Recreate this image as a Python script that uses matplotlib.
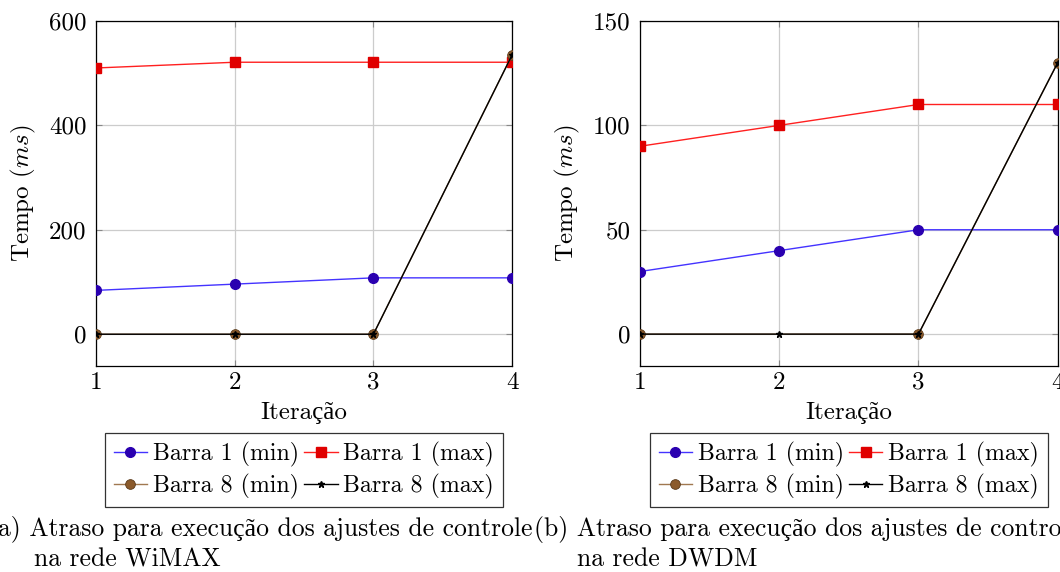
import matplotlib
matplotlib.use("Agg")
import matplotlib.pyplot as plt

# data
iteracoes = [1, 2, 3, 4]

wimax_b1_min = [84, 96, 108, 108]
wimax_b1_max = [510, 521, 521, 521]
wimax_b8_min = [0, 0, 0, 535]
wimax_b8_max = [0, 0, 0, 535]

dwdm_b1_min = [30, 40, 50, 50]
dwdm_b1_max = [90, 100, 110, 110]
dwdm_b8_min_x = [1, 3, 4]
dwdm_b8_min = [0, 0, 130]
dwdm_b8_max = [0, 0, 0, 130]

yticks_wimax = [0, 200, 400, 600]
yticks_dwdm = [0, 50, 100, 150]

captions = [
    ("(a) Atraso para execução dos ajustes de controle", "na rede WiMAX"),
    ("(b) Atraso para execução dos ajustes de controle", "na rede DWDM"),
]

plt.rcParams["font.family"] = ["cmr10", "Liberation Serif"]
plt.rcParams["mathtext.fontset"] = "cm"
plt.rcParams["axes.formatter.use_mathtext"] = True
FS = 18
FS_LEG = 17.2
FS_CAP = 18.5

BLUE_L, BLUE_M = "#4433ff", "#2a00b0"
RED_L, RED_M = "#ff2020", "#e00000"
BROWN_L, BROWN_M = "#a07850", "#8b5a2b"


def panel(ax, b1min, b1max, b8min_x, b8min, b8max, ylim, yticks):
    h1, = ax.plot(iteracoes, b1min, color=BLUE_L, lw=1.0, marker="o", ms=7,
                  mfc=BLUE_M, mec=BLUE_M, label="Barra 1 (min)", zorder=3)
    h2, = ax.plot(iteracoes, b1max, color=RED_L, lw=1.0, marker="s", ms=7,
                  mfc=RED_M, mec=RED_M, label="Barra 1 (max)", zorder=3)
    h3, = ax.plot(b8min_x, b8min, color=BROWN_L, lw=1.0, marker="o", ms=7,
                  mfc=BROWN_M, mec="#5a3a1a", mew=0.6, label="Barra 8 (min)",
                  zorder=3)
    h4, = ax.plot(iteracoes, b8max, color="black", lw=1.0, marker="*", ms=5,
                  mfc="black", mec="black", label="Barra 8 (max)", zorder=4)
    ax.set_xlim(1, 4)
    ax.set_ylim(*ylim)
    ax.set_xticks(iteracoes)
    ax.set_xticklabels([str(v) for v in iteracoes])
    ax.set_yticks(yticks)
    ax.set_yticklabels([str(v) for v in yticks])
    ax.grid(True, color="#cccccc", lw=0.9)
    ax.set_axisbelow(True)
    ax.tick_params(direction="in", top=True, right=True, length=4,
                   color="#888888", labelsize=FS)
    ax.tick_params(axis="x", pad=4)
    ax.tick_params(axis="y", pad=7)
    for s in ax.spines.values():
        s.set_linewidth(0.9)
    ax.set_xlabel("Iteração", fontsize=FS, labelpad=6)
    ax.set_ylabel(r"Tempo ($ms$)", fontsize=FS, labelpad=8)
    # matplotlib fills columns first -> reorder so rows read 1(min) 1(max) / 8(min) 8(max)
    leg = ax.legend([h1, h3, h2, h4],
                    [h.get_label() for h in (h1, h3, h2, h4)],
                    ncol=2, loc="upper center", bbox_to_anchor=(0.5, -0.195),
                    fontsize=FS_LEG, frameon=True, fancybox=False,
                    edgecolor="black", handlelength=1.4, handletextpad=0.25,
                    columnspacing=0.2, labelspacing=0.3, borderpad=0.35,
                    borderaxespad=0)
    leg.get_frame().set_linewidth(0.9)


fig = plt.figure(figsize=(10.6, 5.72), dpi=100)
ax1 = fig.add_axes([0.0906, 0.360, 0.3925, 0.6033])
ax2 = fig.add_axes([0.6038, 0.360, 0.3940, 0.6033])

panel(ax1, wimax_b1_min, wimax_b1_max, iteracoes, wimax_b8_min, wimax_b8_max,
      (-61, 600), yticks_wimax)
panel(ax2, dwdm_b1_min, dwdm_b1_max, dwdm_b8_min_x, dwdm_b8_min, dwdm_b8_max,
      (-15.3, 150), yticks_dwdm)

# sub-captions (cut off at the figure edges like the original)
fig.text(-0.011, 0.074, captions[0][0], fontsize=FS_CAP, va="center", ha="left")
fig.text(0.032, 0.022, captions[0][1], fontsize=FS_CAP, va="center", ha="left")
fig.text(0.504, 0.074, captions[1][0], fontsize=FS_CAP, va="center", ha="left")
fig.text(0.544, 0.022, captions[1][1], fontsize=FS_CAP, va="center", ha="left")

fig.savefig("out.png", dpi=100)
